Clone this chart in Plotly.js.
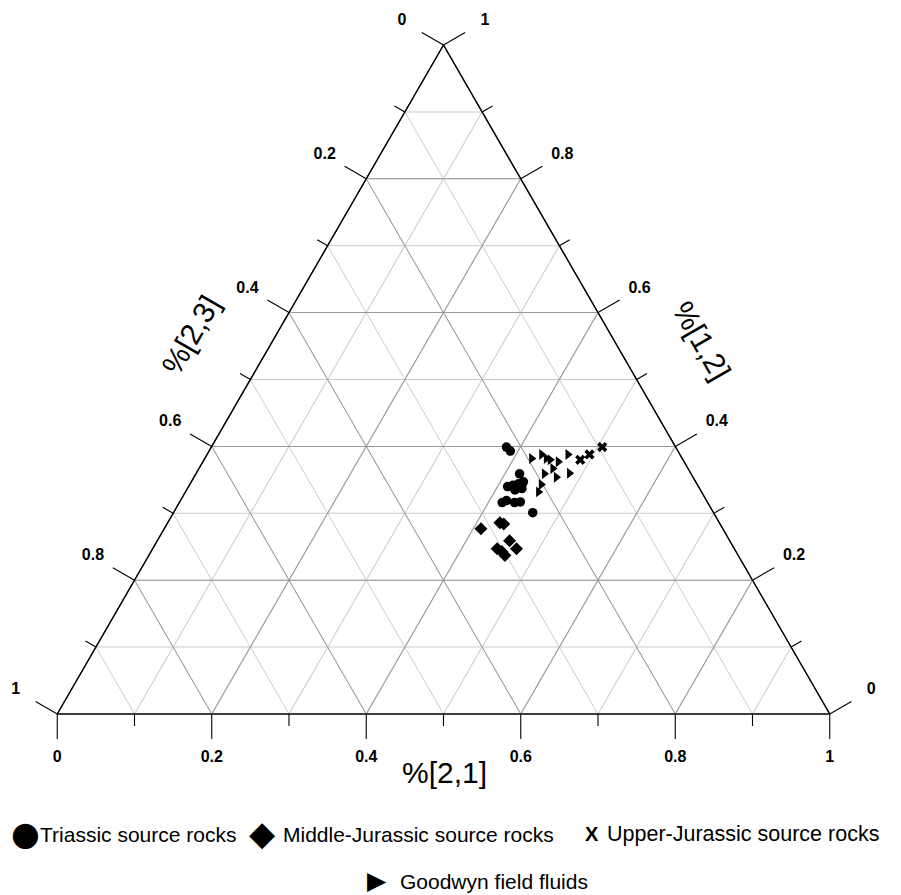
<!DOCTYPE html>
<html>
<head>
<meta charset="utf-8">
<script src="https://cdn.plot.ly/plotly-3.0.1.min.js"></script>
<style>
  html, body { margin: 0; padding: 0; background: #ffffff; }
  #chart { width: 901px; height: 895px; }
</style>
</head>
<body>
<div id="chart"></div>
<script>
// Component shares of each sample.
//   s12 -> %[1,2] (top corner), s23 -> %[2,3] (bottom-left corner), s21 -> %[2,1] (bottom-right corner)
const triassicS12 = [0.399, 0.393, 0.359, 0.340, 0.342, 0.344, 0.347, 0.337, 0.335, 0.316, 0.319, 0.316, 0.317, 0.301];
const triassicS23 = [0.219, 0.217, 0.222, 0.247, 0.239, 0.231, 0.223, 0.230, 0.240, 0.266, 0.259, 0.250, 0.242, 0.234];
const triassicS21 = [0.382, 0.390, 0.419, 0.413, 0.419, 0.425, 0.430, 0.433, 0.425, 0.418, 0.422, 0.434, 0.441, 0.465];

const midJurassicS12 = [0.277, 0.286, 0.284, 0.259, 0.247, 0.247, 0.243, 0.237];
const midJurassicS23 = [0.313, 0.284, 0.280, 0.285, 0.282, 0.307, 0.303, 0.302];
const midJurassicS21 = [0.410, 0.430, 0.436, 0.456, 0.471, 0.446, 0.454, 0.461];

const upperJurassicS12 = [0.380, 0.388, 0.399];
const upperJurassicS23 = [0.133, 0.117, 0.095];
const upperJurassicS21 = [0.487, 0.495, 0.506];

const goodwynS12 = [0.382, 0.388, 0.382, 0.380, 0.377, 0.388, 0.367, 0.359, 0.354, 0.360, 0.343, 0.332];
const goodwynS23 = [0.195, 0.179, 0.176, 0.172, 0.163, 0.145, 0.175, 0.190, 0.177, 0.157, 0.202, 0.211];
const goodwynS21 = [0.423, 0.433, 0.442, 0.448, 0.460, 0.467, 0.458, 0.451, 0.469, 0.483, 0.455, 0.457];

// Axis ticks: labelled every 0.2, short ticks and a light grid every 0.1
const majorTicks = [0, 0.2, 0.4, 0.6, 0.8, 1];
const tickLabels = ['0', '0.2', '0.4', '0.6', '0.8', '1'];
const minorTicks = [0, 0.1, 0.2, 0.3, 0.4, 0.5, 0.6, 0.7, 0.8, 0.9, 1];

const axisTitles = {bottom: '%[2,1]', left: '%[2,3]', right: '%[1,2]'};

const legendNames = {
  triassic: 'Triassic source rocks',
  midJurassic: 'Middle-Jurassic source rocks',
  upperJurassic: 'Upper-Jurassic source rocks',
  goodwyn: 'Goodwyn field fluids'
};

const FONT = 'Liberation Sans, Arial, Helvetica, sans-serif';
const SYMBOL_FONT = 'DejaVu Sans, Liberation Sans, sans-serif';

// ---- page geometry -------------------------------------------------------
const W = 901, H = 895;
const box = {left: 57, right: 830, top: 45, bottom: 714};   // area given to the triangle
const SQ3 = Math.sqrt(3);
// Plotly fits the largest equilateral triangle into the ternary domain, centred
const boxW = box.right - box.left, boxH = box.bottom - box.top;
const side = Math.min(boxW, boxH * 2 / SQ3);
const triLeft = (box.left + box.right) / 2 - side / 2;
const triBottom = (box.top + box.bottom) / 2 + side * SQ3 / 4;

// a hidden cartesian frame spanning the whole page, with the triangle's
// bottom-left corner at (0,0), bottom-right at (1,0), apex at (0.5, sqrt3/2)
const xRange = [-triLeft / side, (W - triLeft) / side];
const yRange = [-(H - triBottom) / side, triBottom / side];
const PX = 1 / side;   // one pixel in frame units

// edge point and outward direction for each labelled axis
const axes = {
  bottom: v => ({p: [v, 0], d: [0, -1]}),                                 // %[2,1]
  left:   v => ({p: [(1 - v) / 2, (1 - v) * SQ3 / 2], d: [-SQ3 / 2, 0.5]}), // %[2,3]
  right:  v => ({p: [1 - v / 2, v * SQ3 / 2], d: [SQ3 / 2, 0.5]})           // %[1,2]
};
const MAJOR_LEN = 25, MINOR_LEN = 12;
const LABEL_OFF = {bottom: 44, left: 48, right: 48};

const tickX = [], tickY = [];
const labX = [], labY = [], labT = [];
Object.keys(axes).forEach(k => {
  minorTicks.forEach(v => {
    const g = axes[k](v);
    const len = (majorTicks.indexOf(v) >= 0 ? MAJOR_LEN : MINOR_LEN) * PX;
    tickX.push(g.p[0], g.p[0] + g.d[0] * len, null);
    tickY.push(g.p[1], g.p[1] + g.d[1] * len, null);
  });
  majorTicks.forEach((v, i) => {
    const g = axes[k](v);
    labX.push(g.p[0] + g.d[0] * LABEL_OFF[k] * PX);
    labY.push(g.p[1] + g.d[1] * LABEL_OFF[k] * PX);
    labT.push(tickLabels[i]);
  });
});

function gridAxis(vals, color) {
  return {
    tickmode: 'array', tickvals: vals, ticks: '', showticklabels: false,
    showgrid: true, gridcolor: color, gridwidth: 1,
    showline: true, linecolor: '#000', linewidth: 1.2,
    title: {text: ''}
  };
}

const traces = [
  // keeps the fine-grid layer alive underneath; not visible
  {
    type: 'scatterternary', subplot: 'ternary', mode: 'markers',
    a: upperJurassicS12, b: upperJurassicS23, c: upperJurassicS21,
    marker: {opacity: 0, size: 1}, showlegend: false, hoverinfo: 'skip'
  },
  {
    type: 'scatterternary', subplot: 'ternary2', mode: 'markers', name: legendNames.triassic,
    a: triassicS12, b: triassicS23, c: triassicS21,
    marker: {symbol: 'circle', size: 9.5, color: '#000'}, showlegend: false
  },
  {
    type: 'scatterternary', subplot: 'ternary2', mode: 'markers', name: legendNames.midJurassic,
    a: midJurassicS12, b: midJurassicS23, c: midJurassicS21,
    marker: {symbol: 'diamond', size: 10, color: '#000'}, showlegend: false
  },
  {
    type: 'scatterternary', subplot: 'ternary2', mode: 'markers', name: legendNames.upperJurassic,
    a: upperJurassicS12, b: upperJurassicS23, c: upperJurassicS21,
    marker: {symbol: 'x', size: 9, color: '#000'}, showlegend: false
  },
  {
    type: 'scatterternary', subplot: 'ternary2', mode: 'markers', name: legendNames.goodwyn,
    a: goodwynS12, b: goodwynS23, c: goodwynS21,
    marker: {symbol: 'triangle-right', size: 9.5, color: '#000'}, showlegend: false
  },
  // perpendicular ticks on the three sides
  {
    type: 'scatter', mode: 'lines', x: tickX, y: tickY, xaxis: 'x', yaxis: 'y',
    line: {color: '#000', width: 1.1}, showlegend: false, hoverinfo: 'skip'
  },
  // tick labels
  {
    type: 'scatter', mode: 'text', x: labX, y: labY, text: labT, xaxis: 'x', yaxis: 'y',
    textposition: 'middle center',
    textfont: {family: FONT, size: 16, color: '#000', weight: 'bold'},
    showlegend: false, hoverinfo: 'skip'
  }
];

const px = x => x / W;
const py = y => 1 - y / H;

function ann(text, x, y, opts) {
  return Object.assign({
    text: text, xref: 'paper', yref: 'paper', x: px(x), y: py(y),
    xanchor: 'center', yanchor: 'middle', showarrow: false,
    borderpad: 0, borderwidth: 0,
    font: {family: FONT, size: 21, color: '#000'}
  }, opts || {});
}

const annotations = [
  ann(axisTitles.bottom, 444, 772, {font: {family: FONT, size: 30, color: '#000'}}),
  ann(axisTitles.left, 190, 335, {textangle: -60, font: {family: FONT, size: 30, color: '#000'}}),
  ann(axisTitles.right, 702, 340, {textangle: 60, font: {family: FONT, size: 30, color: '#000'}}),
  // key
  ann('\u25CF', 25, 833, {font: {family: SYMBOL_FONT, size: 33, color: '#000'}}),
  ann(legendNames.triassic, 40, 834, {xanchor: 'left'}),
  ann('\u25C6', 262, 833, {font: {family: SYMBOL_FONT, size: 34, color: '#000'}}),
  ann(legendNames.midJurassic, 283, 834, {xanchor: 'left'}),
  ann('<b>X</b>', 592, 834, {font: {family: FONT, size: 20, color: '#000'}}),
  ann(legendNames.upperJurassic, 607, 834, {xanchor: 'left', font: {family: FONT, size: 21.5, color: '#000'}}),
  ann('\u25B6', 377, 895, {yanchor: 'bottom', font: {family: SYMBOL_FONT, size: 25, color: '#000'}}),
  ann(legendNames.goodwyn, 400, 881, {xanchor: 'left'})
];

const layout = {
  width: W, height: H,
  margin: {l: 0, r: 0, t: 0, b: 0, autoexpand: false},
  paper_bgcolor: '#ffffff',
  plot_bgcolor: 'rgba(0,0,0,0)',
  font: {family: FONT, color: '#000'},
  showlegend: false,
  xaxis: {domain: [0, 1], range: xRange, visible: false, fixedrange: true},
  yaxis: {domain: [0, 1], range: yRange, visible: false, fixedrange: true},
  ternary: {
    domain: {x: [box.left / W, box.right / W], y: [1 - box.bottom / H, 1 - box.top / H]},
    sum: 1, bgcolor: 'rgba(0,0,0,0)',
    aaxis: gridAxis(minorTicks, '#cbcbcb'),
    baxis: gridAxis(minorTicks, '#cbcbcb'),
    caxis: gridAxis(minorTicks, '#cbcbcb')
  },
  ternary2: {
    domain: {x: [box.left / W, box.right / W], y: [1 - box.bottom / H, 1 - box.top / H]},
    sum: 1, bgcolor: 'rgba(0,0,0,0)',
    aaxis: gridAxis(majorTicks, '#999999'),
    baxis: gridAxis(majorTicks, '#999999'),
    caxis: gridAxis(majorTicks, '#999999')
  },
  annotations: annotations
};

Plotly.newPlot('chart', traces, layout, {displayModeBar: false, staticPlot: true});
</script>
</body>
</html>
